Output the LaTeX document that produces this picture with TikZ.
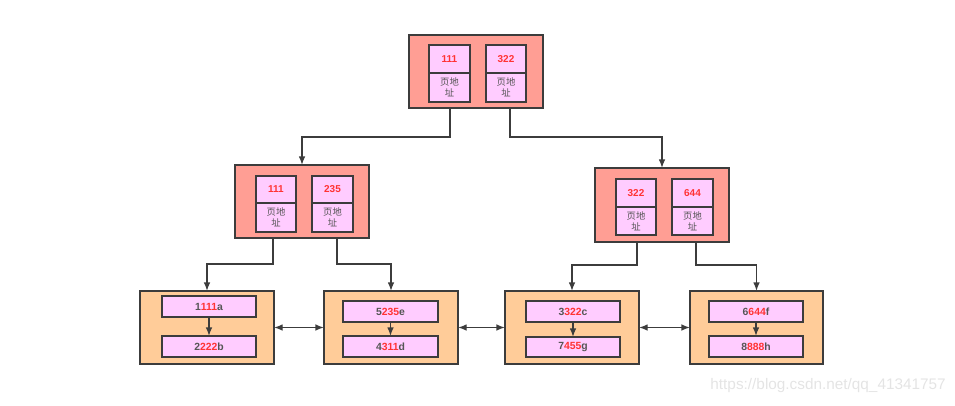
\documentclass[tikz,border=0pt]{standalone}
\usepackage{fontspec}
\setmainfont{Liberation Sans}
\newfontfamily\cjk{Noto Sans CJK SC}
\usetikzlibrary{arrows.meta,calc}
\definecolor{outerred}{HTML}{FF9E94}
\definecolor{cellpink}{HTML}{FFCCFF}
\definecolor{leaforange}{HTML}{FFCC99}
\definecolor{edge}{HTML}{3C3C3C}
\definecolor{numred}{HTML}{FF3333}
\definecolor{txtgray}{HTML}{555555}
\definecolor{wm}{HTML}{E4E4E4}
\tikzset{
  sz/.style 2 args={minimum width=#1*0.75pt, minimum height=#2*0.75pt, inner sep=0pt, outer sep=0pt},
  outerbox/.style={draw=edge, line width=1.3pt, fill=outerred},
  leafbox/.style={draw=edge, line width=1.3pt, fill=leaforange},
  numcell/.style={draw=edge, line width=1pt, fill=cellpink, font=\bfseries\fontsize{7.5}{9}\selectfont, text=numred},
  addrcell/.style={draw=edge, line width=1pt, fill=cellpink, font=\cjk\fontsize{7}{8.5}\selectfont, text=txtgray, align=center},
  rowcell/.style={draw=edge, line width=1pt, fill=cellpink, font=\bfseries\fontsize{7.8}{9}\selectfont, text=txtgray},
  arr/.style={draw=edge, line width=1pt, -{Latex[length=6.5pt,width=5pt]}},
  darr/.style={draw=edge, line width=1pt, {Latex[length=6.5pt,width=5pt]}-{Latex[length=6.5pt,width=5pt]}},
}
\newcommand{\rd}[1]{\textcolor{numred}{#1}}
\begin{document}
\begin{tikzpicture}[x=0.75pt,y=-0.75pt]
\useasboundingbox (0,0) rectangle (955,406);
% ---------- top node
\node[outerbox, sz={134}{73}] (t) at (476,71.5) {};
\node[numcell, sz={41}{28}] (t1n) at (449.5,59) {111};
\node[addrcell, sz={41}{29}] (t1a) at (449.5,87.5) {页地\\址};
\node[numcell, sz={40}{28}] (t2n) at (506,59) {322};
\node[addrcell, sz={40}{29}] (t2a) at (506,87.5) {页地\\址};
% ---------- middle left
\node[outerbox, sz={134}{73}] (ml) at (302,201.5) {};
\node[numcell, sz={40}{27}] (ml1n) at (276,189.5) {111};
\node[addrcell, sz={40}{29}] (ml1a) at (276,217.5) {页地\\址};
\node[numcell, sz={41}{27}] (ml2n) at (332.5,189.5) {235};
\node[addrcell, sz={41}{29}] (ml2a) at (332.5,217.5) {页地\\址};
% ---------- middle right
\node[outerbox, sz={134}{74}] (mr) at (662,205) {};
\node[numcell, sz={40}{28}] (mr1n) at (636,193) {322};
\node[addrcell, sz={40}{28}] (mr1a) at (636,221) {页地\\址};
\node[numcell, sz={41}{28}] (mr2n) at (692.5,193) {644};
\node[addrcell, sz={41}{28}] (mr2a) at (692.5,221) {页地\\址};
% ---------- leaves
\node[leafbox, sz={134}{73}] (l1) at (207,327.5) {};
\node[rowcell, sz={94}{21}] (l1a) at (209,306.5) {1\rd{111}a};
\node[rowcell, sz={94}{21}] (l1b) at (209,346.5) {2\rd{222}b};
\node[leafbox, sz={134}{73}] (l2) at (391,327.5) {};
\node[rowcell, sz={95}{21}] (l2a) at (390.5,311.5) {5\rd{235}e};
\node[rowcell, sz={95}{21}] (l2b) at (390.5,346.5) {4\rd{311}d};
\node[leafbox, sz={134}{73}] (l3) at (572,327.5) {};
\node[rowcell, sz={94}{21}] (l3a) at (573,311.5) {3\rd{322}c};
\node[rowcell, sz={94}{20}] (l3b) at (573,347) {7\rd{455}g};
\node[leafbox, sz={133}{73}] (l4) at (756.5,327.5) {};
\node[rowcell, sz={94}{21}] (l4a) at (756,311.5) {6\rd{644}f};
\node[rowcell, sz={94}{21}] (l4b) at (756,346.5) {8\rd{888}h};
% ---------- connectors
\draw[arr] (t.south -| 450,0) -- (450,137) -| (ml.north);
\draw[arr] (t.south -| 510,0) -- (510,137) -| (mr.north);
\draw[arr] (ml.south -| 273,0) -- (273,264) -| (l1.north);
\draw[arr] (ml.south -| 337,0) -- (337,264) -| (l2.north);
\draw[arr] (mr.south -| 637,0) -- (637,265) -| (l3.north);
\draw[arr] (mr.south -| 696,0) -- (696,265) -| (l4.north);
\draw[arr] (l1a) -- (l1b);
\draw[arr] (l2a) -- (l2b);
\draw[arr] (l3a) -- (l3b);
\draw[arr] (l4a) -- (l4b);
\draw[darr] (l1.east) -- (l2.west);
\draw[darr] (l2.east) -- (l3.west);
\draw[darr] (l3.east) -- (l4.west);
% ---------- watermark
\node[anchor=east, text=wm, font=\fontsize{11.5}{13}\selectfont, inner sep=0pt] (wmk) at (946,386) {https://blog.csdn.net/qq\_41341757};
\end{tikzpicture}
\end{document}
